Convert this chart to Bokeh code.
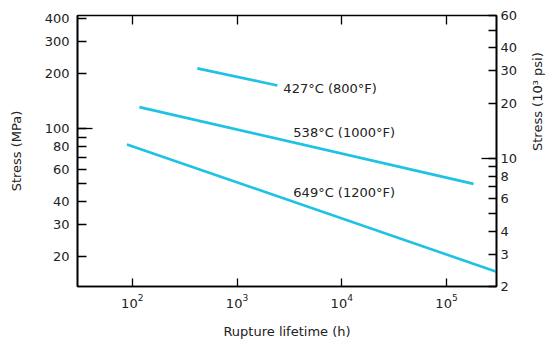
import math
from bokeh.plotting import figure
from bokeh.models import (LogAxis, FixedTicker, Range1d, LogScale,
                          ColumnDataSource, LabelSet)
from bokeh.core.properties import value
from bokeh.embed import file_html
from bokeh.resources import INLINE

# ---- data ----
hours_427 = [418, 2430]
stress_427 = [213, 172]
hours_538 = [117, 181000]
stress_538 = [131, 50]
hours_649 = [89, 300000]
stress_649 = [82, 16.6]

label_text = ["427°C (800°F)", "538°C (1000°F)", "649°C (1200°F)"]
label_hours = [2770, 3450, 3450]
label_stress = [166, 95.6, 45.1]

x_ticks = [1e2, 1e3, 1e4, 1e5]
mpa_ticks = [20, 30, 40, 60, 80, 100, 200, 300, 400]
mpa_minor = [50, 70, 90]
ksi_ticks = [2, 3, 4, 6, 8, 10, 20, 30, 40, 60]
ksi_minor = [5, 7, 9, 50]

FONT = "DejaVu Sans"
TXT = "#222222"
LINE = "#1ec3e3"

p = figure(width=556, height=348, output_backend="svg", toolbar_location=None,
           x_axis_type="log", y_axis_type="log",
           x_axis_location=None, y_axis_location=None,
           x_range=Range1d(30, 3.0e5), y_range=Range1d(13.79, 413.7),
           min_border_left=77, min_border_right=60, min_border_top=15,
           min_border_bottom=62)
p.grid.visible = False
p.outline_line_color = "black"
p.outline_line_width = 1.6
p.background_fill_color = "white"
p.border_fill_color = "white"

p.extra_y_ranges = {"ksi": Range1d(2, 60)}
p.extra_y_scales = {"ksi": LogScale()}


def style(ax, tick_in, font_px="13px"):
    ax.major_tick_in = tick_in
    ax.major_tick_out = 0
    ax.minor_tick_in = tick_in
    ax.minor_tick_out = 0
    ax.major_tick_line_color = "black"
    ax.minor_tick_line_color = "black"
    ax.major_tick_line_width = 1.3
    ax.minor_tick_line_width = 1.3
    ax.axis_line_color = "black"
    ax.axis_line_width = 1.6
    ax.major_label_text_font = FONT
    ax.major_label_text_font_size = font_px
    ax.major_label_text_color = TXT
    ax.axis_label_text_font = FONT
    ax.axis_label_text_font_size = "13px"
    ax.axis_label_text_font_style = "normal"
    ax.axis_label_text_color = TXT


def tick_only(ax, tick_in):
    style(ax, tick_in, font_px="1px")
    ax.major_label_text_color = None
    ax.major_label_standoff = 0
    ax.axis_line_color = None
    ax.minor_tick_line_color = None


# left: long tick at 100, then labelled axis
left_long = LogAxis(ticker=FixedTicker(ticks=[100]))
tick_only(left_long, 15)
p.add_layout(left_long, "left")

left = LogAxis(ticker=FixedTicker(ticks=mpa_ticks, minor_ticks=mpa_minor),
               axis_label="Stress (MPa)")
style(left, 9)
left.major_label_standoff = 8
left.axis_label_standoff = 18
p.add_layout(left, "left")

# right (10^3 psi)
right_long = LogAxis(ticker=FixedTicker(ticks=[10]), y_range_name="ksi")
tick_only(right_long, 15)
p.add_layout(right_long, "right")

right = LogAxis(ticker=FixedTicker(ticks=ksi_ticks, minor_ticks=ksi_minor),
                y_range_name="ksi", axis_label="Stress (10³ psi)")
style(right, 8)
right.major_label_standoff = 4
right.axis_label_standoff = 17
try:
    right.axis_label_orientation = math.pi / 2
except Exception:
    pass
p.add_layout(right, "right")

# bottom
bottom = LogAxis(ticker=FixedTicker(ticks=x_ticks), axis_label="Rupture lifetime (h)")
style(bottom, 8)
bottom.major_label_standoff = 7
bottom.axis_label_standoff = 13
p.add_layout(bottom, "below")

# top: ticks only
top = LogAxis(ticker=FixedTicker(ticks=x_ticks))
tick_only(top, 9)
p.add_layout(top, "above")

for hrs, st in [(hours_427, stress_427), (hours_538, stress_538), (hours_649, stress_649)]:
    p.line(hrs, st, line_color=LINE, line_width=2.6)

src = ColumnDataSource(dict(x=label_hours, y=label_stress, t=label_text))
p.add_layout(LabelSet(x="x", y="y", text="t", source=src,
                      text_font=value(FONT), text_font_size="13px", text_color=TXT,
                      text_align="left", text_baseline="middle"))

open("out.html", "w").write(file_html(p, INLINE))
